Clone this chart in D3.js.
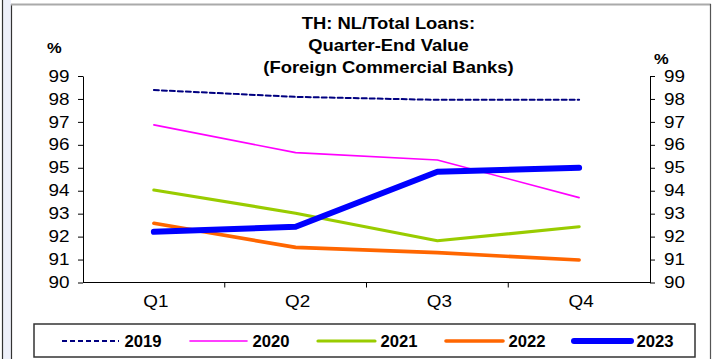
<!DOCTYPE html>
<html><head><meta charset="utf-8">
<script src="https://cdn.jsdelivr.net/npm/d3@7"></script>
<style>body{margin:0;background:#fff}svg{display:block}text{font-family:Arial,"Liberation Sans",sans-serif}</style>
</head><body><svg id="c" width="712" height="359"></svg>
<script>
const categories = ["Q1","Q2","Q3","Q4"];
const years = ["2019","2020","2021","2022","2023"];
const s2019 = [98.39, 98.09, 97.96, 97.96];
const s2020 = [96.87, 95.66, 95.34, 93.70];
const s2021 = [94.03, 93.02, 91.82, 92.43];
const s2022 = [92.58, 91.53, 91.30, 90.98];
const s2023 = [92.21, 92.43, 94.83, 95.00];
const yTicks = [90,91,92,93,94,95,96,97,98,99];
const titleLines = ["TH: NL/Total Loans:","Quarter-End Value","(Foreign Commercial Banks)"];

const seriesValues = [s2019, s2020, s2021, s2022, s2023];
const colors = ["#000080","#FF00FF","#99CC00","#FF6600","#0000FF"];
const widths = [2, 1.6, 3.2, 3.6, 6];
const dashes = ["5,3", null, null, null, null];

const svg = d3.select("#c");
// outer frame
svg.append("rect").attr("x",3).attr("y",0).attr("width",8).attr("height",359).attr("fill","#eef0fa");
svg.append("line").attr("x1",2.5).attr("x2",2.5).attr("y1",0).attr("y2",359).attr("stroke","#333").attr("stroke-width",1.2);
svg.append("line").attr("x1",11.5).attr("x2",11.5).attr("y1",4).attr("y2",359).attr("stroke","#333").attr("stroke-width",1.2);
svg.append("line").attr("x1",11).attr("x2",711).attr("y1",4.5).attr("y2",4.5).attr("stroke","#aaa").attr("stroke-width",2);
svg.append("line").attr("x1",710.5).attr("x2",710.5).attr("y1",4).attr("y2",359).attr("stroke","#555").attr("stroke-width",1.2);

const L = 83, R = 650, T = 76, B = 282.5;
const x = d3.scaleBand().domain(categories).range([L,R]);
const y = d3.scaleLinear().domain([90,99]).range([B,T]);

function stext(g, tx, ty, sx, size, bold, anchor, str) {
  return g.append("text").attr("transform",`translate(${tx},${ty}) scale(${sx},1)`)
    .attr("font-size",size).attr("font-weight",bold?"bold":"normal")
    .attr("text-anchor",anchor).attr("fill","#000").text(str);
}

// title
titleLines.forEach((t,i)=>stext(svg,388.5,29+i*22,1.15,16,true,"middle",t));

stext(svg,47,53,1.1,15,true,"start","%");
stext(svg,654,63.5,1.1,15,true,"start","%");

const axisStyle = g => {
  g.selectAll("path,line").attr("stroke","#000").attr("stroke-width",1);
  g.selectAll("text").each(function(){
    const xv = +this.getAttribute("x");
    d3.select(this).attr("x",0).attr("transform",`translate(${xv},0) scale(1.18,1)`)
      .attr("font-size",16).attr("fill","#000").attr("font-family","Arial, 'Liberation Sans', sans-serif");
  });
};
svg.append("g").attr("transform",`translate(${L},0)`)
  .call(d3.axisLeft(y).tickValues(yTicks).tickSize(5).tickSizeOuter(0).tickPadding(8.5)).call(axisStyle);
svg.append("g").attr("transform",`translate(${R},0)`)
  .call(d3.axisRight(y).tickValues(yTicks).tickSize(5).tickSizeOuter(0).tickPadding(9)).call(axisStyle);

// x axis with ticks at band boundaries
const xg = svg.append("g").attr("transform",`translate(0,${B})`);
xg.append("line").attr("x1",L).attr("x2",R).attr("y1",0).attr("y2",0).attr("stroke","#000");
xg.selectAll("line.t").data(categories.slice(1)).join("line").attr("class","t")
  .attr("x1",d=>x(d)).attr("x2",d=>x(d)).attr("y1",0).attr("y2",5).attr("stroke","#000");
categories.forEach(c=>stext(xg, x(c)+x.bandwidth()/2+2, 24, 1.18, 16, false, "middle", c));

const line = d3.line().x((d,i)=>x(categories[i])+x.bandwidth()/2).y(d=>y(d));
svg.append("g").selectAll("path").data(seriesValues).join("path")
  .attr("d",d=>line(d)).attr("fill","none")
  .attr("stroke",(d,i)=>colors[i]).attr("stroke-width",(d,i)=>widths[i])
  .attr("stroke-dasharray",(d,i)=>dashes[i]).attr("stroke-linejoin","round").attr("stroke-linecap","round");

// legend
svg.append("rect").attr("x",34).attr("y",324).attr("width",661).attr("height",33)
  .attr("fill","#fff").attr("stroke","#333").attr("stroke-width",1.5);
const lx = [62,190,318,446,574];
const lg = svg.append("g").selectAll("g").data(years).join("g").attr("transform",(d,i)=>`translate(${lx[i]},341)`);
lg.append("line").attr("x1",0).attr("x2",57).attr("y1",0).attr("y2",0)
  .attr("stroke",(d,i)=>colors[i]).attr("stroke-width",(d,i)=>widths[i])
  .attr("stroke-dasharray",(d,i)=>dashes[i]).attr("stroke-linecap",(d,i)=>i===0?"butt":"round");
lg.each(function(d){ stext(d3.select(this),62.5,5.5,1.04,16,true,"start",d); });
</script></body></html>
